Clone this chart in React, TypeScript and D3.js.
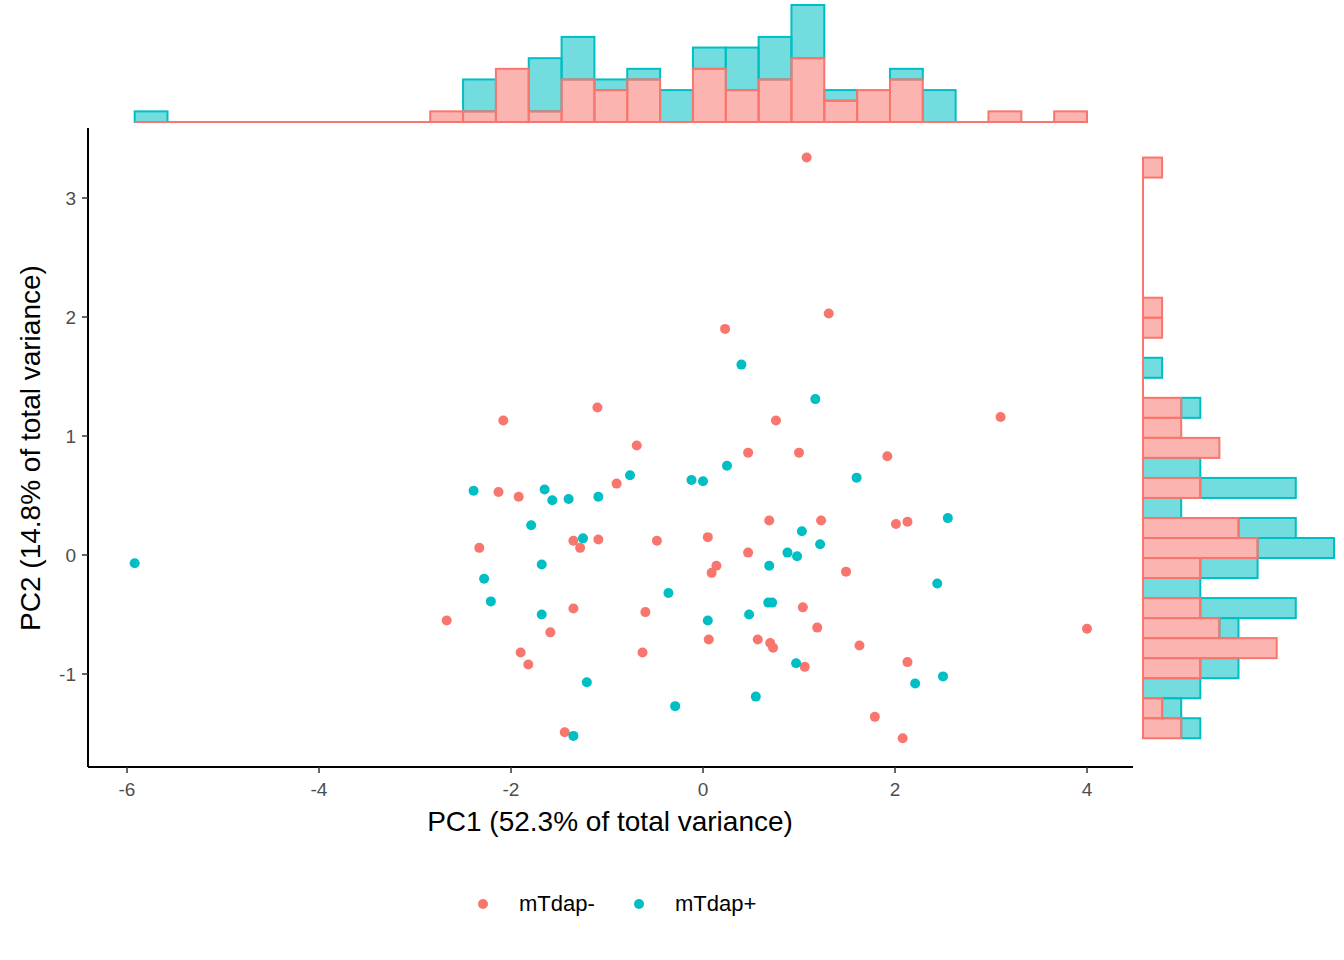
import React from 'react';
import * as d3 from 'd3';

// PC1 / PC2 scores per group
const negX = [1.08, 1.31, 0.23, 3.10, -2.08, -1.10, 0.76, -0.69, 0.47, 1.00, 1.92, -0.90, -2.13, -1.92, 0.69, 1.23, 2.01, 2.13, -2.33, -1.35, -1.28, -1.09, -0.48, 0.05, 0.47, 0.14, 0.09, 1.49, -1.35, -0.60, 1.04, -2.67, -1.59, 1.19, 4.00, -1.90, -1.82, -0.63, 0.06, 0.57, 0.70, 0.73, 1.06, 1.63, 2.13, 1.79, -1.44, 2.08];
const negY = [3.34, 2.03, 1.90, 1.16, 1.13, 1.24, 1.13, 0.92, 0.86, 0.86, 0.83, 0.60, 0.53, 0.49, 0.29, 0.29, 0.26, 0.28, 0.06, 0.12, 0.06, 0.13, 0.12, 0.15, 0.02, -0.09, -0.15, -0.14, -0.45, -0.48, -0.44, -0.55, -0.65, -0.61, -0.62, -0.82, -0.92, -0.82, -0.71, -0.71, -0.74, -0.78, -0.94, -0.76, -0.90, -1.36, -1.49, -1.54];
const posX = [-5.92, 0.40, 1.17, -0.76, 0.25, -0.12, 0.00, 1.60, -2.39, -1.65, -1.57, -1.40, -1.09, -1.79, 2.55, 1.03, -1.25, 1.22, 0.88, 0.98, -1.68, 0.69, -2.28, 2.44, -0.36, -2.21, -1.68, 0.48, 0.05, 0.68, 0.72, 0.97, -1.21, 2.50, 2.21, 0.55, -0.29, -1.35];
const posY = [-0.07, 1.60, 1.31, 0.67, 0.75, 0.63, 0.62, 0.65, 0.54, 0.55, 0.46, 0.47, 0.49, 0.25, 0.31, 0.20, 0.14, 0.09, 0.02, -0.01, -0.08, -0.09, -0.20, -0.24, -0.32, -0.39, -0.50, -0.50, -0.55, -0.40, -0.40, -0.91, -1.07, -1.02, -1.08, -1.19, -1.27, -1.52];

const groups = ['mTdap-', 'mTdap+'];
const colors = ['#F8766D', '#00BFC4'];
const xTicks = [-6, -4, -2, 0, 2, 4];
const yTicks = [-1, 0, 1, 2, 3];

const font = '"Liberation Sans", Arial, sans-serif';

// right-closed bins of equal width from lo to hi
function stackedBins(a: number[], b: number[], lo: number, hi: number) {
  const n = 29;
  const w = (hi - lo) / n;
  const idx = (v: number) => Math.max(0, Math.min(n - 1, Math.ceil((v - lo) / w - 1e-9) - 1));
  const ca = new Array(n).fill(0);
  const cb = new Array(n).fill(0);
  a.forEach((v) => ca[idx(v)]++);
  b.forEach((v) => cb[idx(v)]++);
  return d3.range(n).map((i) => ({ x0: lo + i * w, x1: lo + (i + 1) * w, a: ca[i], b: cb[i] }));
}

export default function App() {
  const L = 88, R = 1133, T = 128, B = 767;
  const x = d3.scaleLinear().domain([0, 4]).range([703, 1087]);
  const y = d3.scaleLinear().domain([0, 3]).range([555, 198]);

  const allX = [...negX, ...posX];
  const allY = [...negY, ...posY];
  const topBins = stackedBins(negX, posX, d3.min(allX)!, d3.max(allX)!);
  const sideBins = stackedBins(negY, posY, d3.min(allY)!, d3.max(allY)!);
  const topC = d3.scaleLinear().domain([0, 11]).range([122, 5]);
  const sideC = d3.scaleLinear().domain([0, 10]).range([1143, 1334]);

  const fillOp = 0.55;

  return (
    <svg width={1344} height={960} style={{ position: 'absolute', left: 0, top: 0, background: '#fff' }} fontFamily={font}>
      {/* top marginal histogram */}
      <g>
        {topBins.map((d, i) => (
          <g key={i}>
            {d.b > 0 && (
              <rect x={x(d.x0)} y={topC(d.a + d.b)} width={x(d.x1) - x(d.x0)} height={topC(d.a) - topC(d.a + d.b)}
                fill={colors[1]} fillOpacity={fillOp} stroke={colors[1]} strokeWidth={2} />
            )}
          </g>
        ))}
        <line x1={x(topBins[0].x0)} x2={x(topBins[topBins.length - 1].x1)} y1={topC(0)} y2={topC(0)} stroke={colors[0]} strokeWidth={2} />
        {topBins.filter((d) => d.a > 0).map((d, i) => (
          <rect key={i} x={x(d.x0)} y={topC(d.a)} width={x(d.x1) - x(d.x0)} height={topC(0) - topC(d.a)}
            fill={colors[0]} fillOpacity={fillOp} stroke={colors[0]} strokeWidth={2} />
        ))}
      </g>
      {/* right marginal histogram */}
      <g>
        {sideBins.map((d, i) => (
          <g key={i}>
            {d.b > 0 && (
              <rect x={sideC(d.a)} y={y(d.x1)} width={sideC(d.a + d.b) - sideC(d.a)} height={y(d.x0) - y(d.x1)}
                fill={colors[1]} fillOpacity={fillOp} stroke={colors[1]} strokeWidth={2} />
            )}
          </g>
        ))}
        <line x1={sideC(0)} x2={sideC(0)} y1={y(sideBins[0].x0)} y2={y(sideBins[sideBins.length - 1].x1)} stroke={colors[0]} strokeWidth={2} />
        {sideBins.filter((d) => d.a > 0).map((d, i) => (
          <rect key={i} x={sideC(0)} y={y(d.x1)} width={sideC(d.a) - sideC(0)} height={y(d.x0) - y(d.x1)}
            fill={colors[0]} fillOpacity={fillOp} stroke={colors[0]} strokeWidth={2} />
        ))}
      </g>

      {/* points */}
      {negX.map((v, i) => <circle key={'n' + i} cx={x(v)} cy={y(negY[i])} r={5} fill={colors[0]} />)}
      {posX.map((v, i) => <circle key={'p' + i} cx={x(v)} cy={y(posY[i])} r={5} fill={colors[1]} />)}

      {/* axes */}
      <line x1={L} x2={L} y1={T} y2={B} stroke="#000" strokeWidth={2} />
      <line x1={L} x2={R} y1={B} y2={B} stroke="#000" strokeWidth={2} />
      {xTicks.map((t) => (
        <g key={t}>
          <line x1={x(t)} x2={x(t)} y1={B} y2={B + 6} stroke="#333" strokeWidth={1.5} />
          <text x={x(t)} y={B + 29} textAnchor="middle" fontSize={19} fill="#4D4D4D">{t}</text>
        </g>
      ))}
      {yTicks.map((t) => (
        <g key={t}>
          <line x1={L - 6} x2={L} y1={y(t)} y2={y(t)} stroke="#333" strokeWidth={1.5} />
          <text x={L - 12} y={y(t) + 7} textAnchor="end" fontSize={19} fill="#4D4D4D">{t}</text>
        </g>
      ))}
      <text x={610} y={831} textAnchor="middle" fontSize={28}>PC1 (52.3% of total variance)</text>
      <text transform={`translate(40,448) rotate(-90)`} textAnchor="middle" fontSize={28}>PC2 (14.8% of total variance)</text>

      {/* legend */}
      {groups.map((g, i) => (
        <g key={g} transform={`translate(${[483, 639][i]},904)`}>
          <circle r={5} fill={colors[i]} />
          <text x={36} y={7} fontSize={22}>{g}</text>
        </g>
      ))}
    </svg>
  );
}
